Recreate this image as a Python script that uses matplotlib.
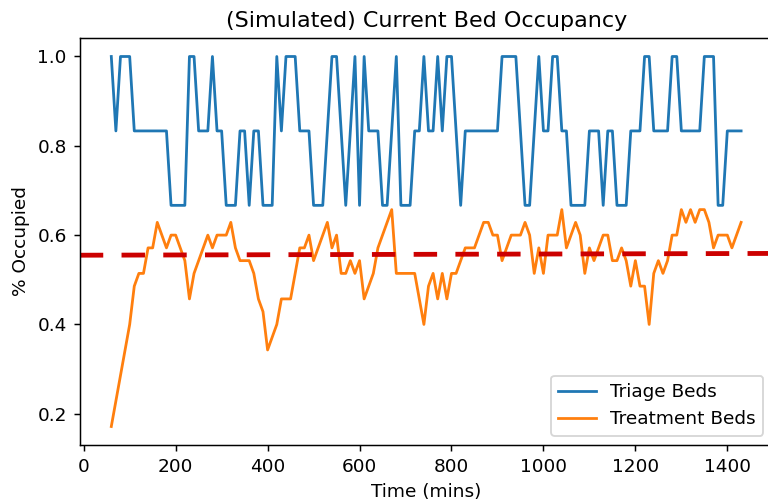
import numpy as np
import matplotlib
matplotlib.use("Agg")
import matplotlib.pyplot as plt

# audit times (mins)
times = np.arange(60, 1440, 10)

# occupied beds at each audit (6 triage beds, 35 treatment beds)
triage_beds = 6
triage_occupied = [
    6, 5, 6, 6, 6, 5, 5, 5, 5, 5,
    5, 5, 5, 4, 4, 4, 4, 6, 6, 5,
    5, 5, 6, 5, 5, 4, 4, 4, 5, 5,
    4, 5, 5, 4, 4, 4, 6, 5, 6, 6,
    6, 5, 5, 5, 4, 4, 4, 5, 6, 6,
    5, 4, 5, 6, 4, 6, 5, 5, 5, 4,
    4, 5, 6, 4, 4, 4, 5, 5, 6, 5,
    5, 6, 5, 6, 6, 5, 4, 5, 5, 5,
    5, 5, 5, 5, 5, 6, 6, 6, 6, 5,
    4, 4, 5, 6, 5, 5, 6, 6, 5, 5,
    4, 4, 4, 4, 5, 5, 5, 4, 5, 5,
    4, 4, 4, 5, 5, 5, 6, 6, 5, 5,
    5, 5, 6, 6, 5, 5, 5, 5, 5, 6,
    6, 6, 4, 4, 5, 5, 5, 5,
]

treatment_beds = 35
treatment_occupied = [
    6, 8, 10, 12, 14, 17, 18, 18, 20, 20,
    22, 21, 20, 21, 21, 20, 19, 16, 18, 19,
    20, 21, 20, 21, 21, 21, 22, 20, 19, 19,
    19, 18, 16, 15, 12, 13, 14, 16, 16, 16,
    18, 20, 20, 21, 19, 20, 21, 22, 20, 21,
    18, 18, 19, 18, 19, 16, 17, 18, 20, 21,
    22, 23, 18, 18, 18, 18, 18, 16, 14, 17,
    18, 16, 18, 16, 18, 18, 19, 20, 20, 20,
    21, 22, 22, 21, 21, 19, 20, 21, 21, 21,
    22, 21, 18, 20, 18, 21, 21, 21, 23, 20,
    21, 22, 21, 18, 20, 19, 20, 21, 21, 19,
    19, 20, 19, 17, 19, 17, 17, 14, 18, 19,
    18, 19, 21, 21, 23, 22, 23, 22, 23, 23,
    22, 20, 21, 21, 21, 20, 21, 22,
]

# dashed reference level (start, end of axis)
ref_level = [0.555, 0.559]

triage = np.array(triage_occupied) / triage_beds
treatment = np.array(treatment_occupied) / treatment_beds

dpi = 133.3
fig = plt.figure(figsize=(768 / dpi, 502 / dpi), dpi=dpi)
ax = fig.add_axes([79.8 / 768, 57 / 502, 692.8 / 768, 407 / 502])

ax.plot(times, triage, label="Triage Beds")
ax.plot(times, treatment, label="Treatment Beds")

xmin, xmax = ax.get_xlim()
ax.plot([xmin, xmax], ref_level, color="#cc0000", linewidth=2.6,
        linestyle=(0, (4.87, 3.8)))
ax.set_xlim(xmin, xmax)

ax.set_title("(Simulated) Current Bed Occupancy")
ax.set_xlabel("Time (mins)")
ax.set_ylabel("% Occupied")
ax.legend(loc="lower right")

fig.savefig("out.png", dpi=dpi)
